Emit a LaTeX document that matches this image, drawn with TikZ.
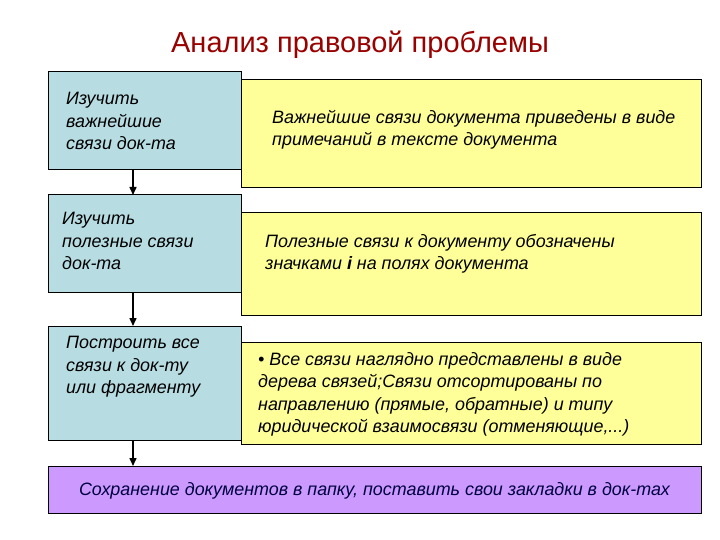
\documentclass[tikz,border=0pt]{standalone}
\usepackage{fontspec}
\setmainfont{Liberation Sans}
\usetikzlibrary{arrows.meta}
\definecolor{lblue}{HTML}{B7DDE3}
\definecolor{lyel}{HTML}{FFFF99}
\definecolor{lpur}{HTML}{CC99FF}
\begin{document}
\begin{tikzpicture}[x=1pt,y=-1pt,
  bluebox/.style={draw=black,fill=lblue,line width=1pt},
  yelbox/.style={draw=black,fill=lyel,line width=1pt},
  purbox/.style={draw=black,fill=lpur,line width=1pt},
  txt/.style={anchor=north west,align=left,inner sep=0pt,font=\fontsize{17.9}{22.5}\selectfont\itshape},
  arr/.style={-{Triangle[length=8pt,width=7pt]},line width=1.5pt}]
\useasboundingbox (0,0) rectangle (720,540);
\node[text=red!60!black,font=\fontsize{29}{32}\selectfont] (title) at (360,45) {Анализ правовой проблемы};
% yellow boxes
\draw[yelbox] (241,80) rectangle (701,188);
\draw[yelbox] (241,213) rectangle (701,315);
\draw[yelbox] (241,342) rectangle (701,444);
% blue boxes
\draw[bluebox] (48,72) rectangle (241,170);
\draw[bluebox] (48,195) rectangle (241,292);
\draw[bluebox] (48,326) rectangle (241,440);
\draw[purbox] (48,466) rectangle (701,513);
\coordinate (b1) at (133,170); \coordinate (t2) at (133,195);
\coordinate (b2) at (133,292); \coordinate (t3) at (133,326);
\coordinate (b3) at (133,440); \coordinate (t4) at (133,466);
\draw[arr] (b1) -- (t2);
\draw[arr] (b2) -- (t3);
\draw[arr] (b3) -- (t4);
\node[txt] (l1) at (66,92) {Изучить\\важнейшие\\связи док-та};
\node[txt] (l2) at (62,212) {Изучить\\полезные связи\\док-та};
\node[txt] (l3) at (66,336) {Построить все\\связи к док-ту\\или фрагменту};
\node[txt] (r1) at (272,110) {Важнейшие связи документа приведены в виде\\примечаний в тексте документа};
\node[txt] (r2) at (265,234) {Полезные связи к документу обозначены\\значками \textbf{\textit{i}} на полях документа};
\node[txt] (r3) at (258,352) {• Все связи наглядно представлены в виде\\дерева связей;Связи отсортированы по\\направлению (прямые, обратные) и типу\\юридической взаимосвязи (отменяющие,...)};
\node[txt,anchor=center,text=blue!25!black] (bt) at (374.5,491) {Сохранение документов в папку, поставить свои закладки в док-тах};
\end{tikzpicture}
\end{document}
